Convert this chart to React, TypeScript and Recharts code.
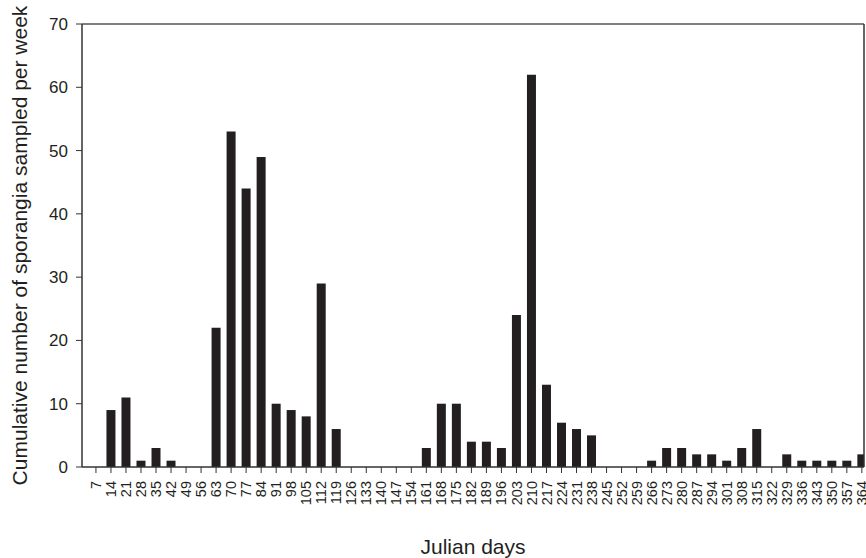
import { BarChart, Bar, XAxis, YAxis, Label, ReferenceLine } from "recharts";

// Julian day at the end of each weekly sampling period
const days = [
  7, 14, 21, 28, 35, 42, 49, 56, 63, 70, 77, 84, 91, 98, 105, 112, 119, 126,
  133, 140, 147, 154, 161, 168, 175, 182, 189, 196, 203, 210, 217, 224, 231,
  238, 245, 252, 259, 266, 273, 280, 287, 294, 301, 308, 315, 322, 329, 336,
  343, 350, 357, 364,
];

// cumulative sporangia counted in each week
const sporangia = [
  0, 9, 11, 1, 3, 1, 0, 0, 22, 53, 44, 49, 10, 9, 8, 29, 6, 0,
  0, 0, 0, 0, 3, 10, 10, 4, 4, 3, 24, 62, 13, 7, 6,
  5, 0, 0, 0, 1, 3, 3, 2, 2, 1, 3, 6, 0, 2, 1,
  1, 1, 1, 2,
];

const yTicks = [0, 10, 20, 30, 40, 50, 60, 70];

const data = days.map((day, i) => ({ day, count: sporangia[i] }));

const ink = "#231f20";
const axisColor = "#333";
const font = "'Liberation Sans', Arial, sans-serif";

const DayTick = (props: any) => {
  const { x, y, payload } = props;
  const ty = y + 6;
  return (
    <text
      x={x}
      y={ty}
      transform={`rotate(-90, ${x}, ${ty})`}
      textAnchor="end"
      dy="0.35em"
      fontSize={14.5}
      fontFamily={font}
      fill={ink}
    >
      {payload.value}
    </text>
  );
};

export default function App() {
  return (
    <div style={{ position: "absolute", left: 0, top: 0, background: "#fff" }}>
      <BarChart
        width={866}
        height={558}
        data={data}
        margin={{ top: 24, right: 2, left: 0, bottom: 0 }}
      >
        <XAxis
          dataKey="day"
          type="number"
          domain={[0.5, 365]}
          ticks={days}
          interval={0}
          height={91}
          tick={<DayTick />}
          tickSize={6}
          axisLine={{ stroke: axisColor, strokeWidth: 1.5 }}
          tickLine={{ stroke: axisColor }}
          allowDataOverflow
        >
          <Label
            value="Julian days"
            position="insideBottom"
            offset={4}
            style={{ fontSize: 21, fontFamily: font, fill: ink }}
          />
        </XAxis>
        <YAxis
          domain={[0, 70]}
          ticks={yTicks}
          width={82}
          tickSize={6}
          tickMargin={8}
          tick={{ fontSize: 17, fontFamily: font, fill: ink }}
          axisLine={{ stroke: axisColor, strokeWidth: 1.5 }}
          tickLine={{ stroke: axisColor }}
        >
          <Label
            value="Cumulative number of sporangia sampled per week"
            angle={-90}
            position="insideLeft"
            offset={0}
            dx={20}
            style={{ fontSize: 21, fontFamily: font, fill: ink, textAnchor: "middle" }}
          />
        </YAxis>
        {/* frame: top and right edges of the plot box */}
        <ReferenceLine y={70} stroke="#555" strokeWidth={1.5} ifOverflow="extendDomain" />
        <ReferenceLine x={365} stroke={axisColor} strokeWidth={1.5} ifOverflow="extendDomain" />
        <Bar dataKey="count" fill={ink} barSize={9} isAnimationActive={false} />
      </BarChart>
    </div>
  );
}
